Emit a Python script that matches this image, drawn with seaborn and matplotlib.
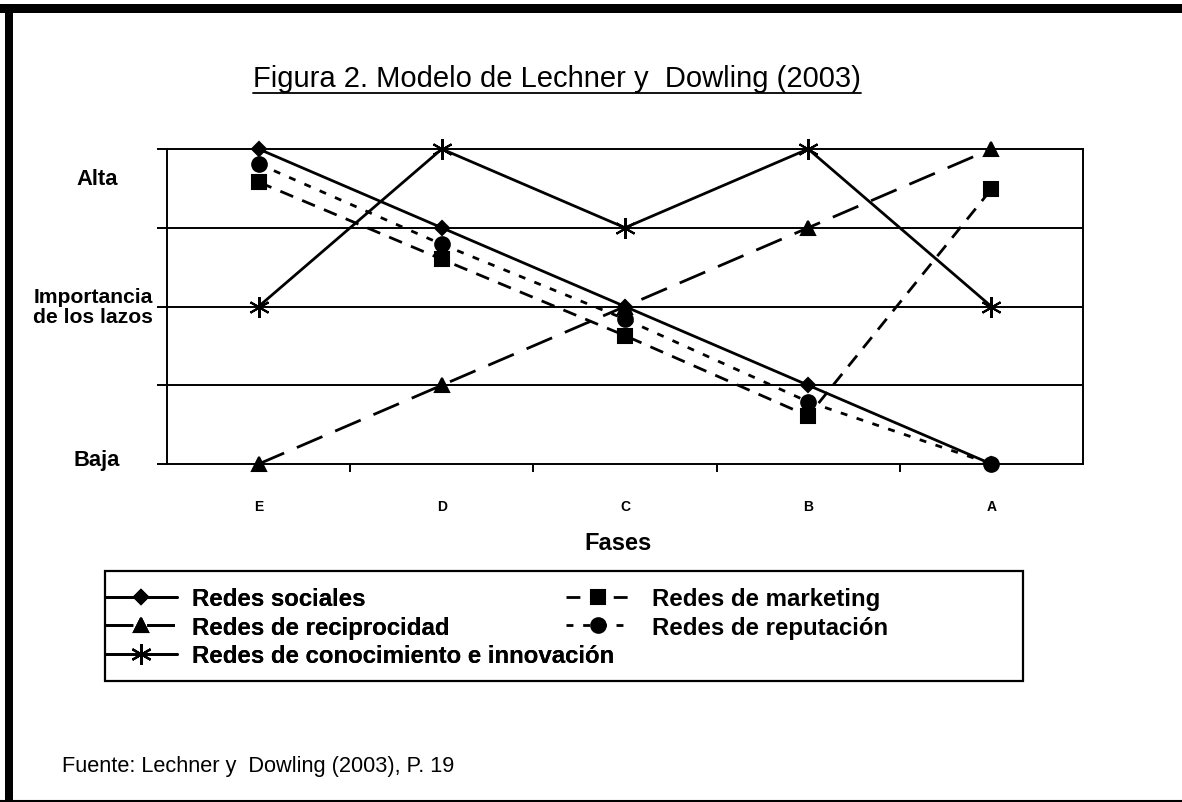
import matplotlib
matplotlib.use("Agg")
import matplotlib.pyplot as plt
import matplotlib.transforms as mtransforms
import seaborn as sns
import numpy as np
from matplotlib.lines import Line2D
from matplotlib.patches import Rectangle

# datos (0 = Baja, 4 = Alta)
fases = ["E", "D", "C", "B", "A"]
redes_sociales = [4, 3, 2, 1, 0]
redes_reciprocidad = [0, 1, 2, 3, 4]
redes_conocimiento = [2, 4, 3, 4, 2]
redes_marketing = [3.58, 2.60, 1.63, 0.61, 3.49]
redes_reputacion = [3.81, 2.79, 1.84, 0.79, 0.0]

sns.set_theme(style="white")
plt.rcParams["font.family"] = ["Liberation Sans", "DejaVu Sans"]
plt.rcParams["text.color"] = "black"
plt.rcParams["xtick.color"] = "black"
plt.rcParams["ytick.color"] = "black"

W, H = 1182, 803
fig = plt.figure(figsize=(W / 100, H / 100), dpi=100)
fig.patch.set_facecolor("white")

# ejes del grafico (en pixeles de la figura)
x0, x1, ytop, ybot = 167, 1083, 150, 465
ax = fig.add_axes([x0 / W, 1 - ybot / H, (x1 - x0) / W, (ybot - ytop) / H])

x = np.arange(len(fases))
series = [
    # etiqueta, valores, estilo de linea, marcador, tamano
    ("Redes sociales", redes_sociales, "-", "D", 7.5),
    ("Redes de reciprocidad", redes_reciprocidad, (0, (10, 5)), "^", 10.5),
    ("Redes de conocimiento e innovación", redes_conocimiento, "-", (6, 2, 0), 15),
    ("Redes de marketing", redes_marketing, (0, (5, 3.5)), "s", 9.5),
    ("Redes de reputación", redes_reputacion, (0, (2.5, 3.5)), "o", 10.5),
]

handles = []
for label, vals, ls, mk, ms in series:
    sns.lineplot(x=x, y=vals, ax=ax, color="black", linewidth=2.0,
                 linestyle=ls, marker=mk, markersize=ms,
                 markeredgecolor="black", markerfacecolor="black",
                 markeredgewidth=1.5, clip_on=False, zorder=3)
    handles.append(Line2D([0], [0], color="black", linewidth=2.0, linestyle=ls,
                          marker=mk, markersize=ms, markerfacecolor="black",
                          markeredgecolor="black", markeredgewidth=1.5, label=label))

ax.set_xlim(-0.5, len(fases) - 0.5)
ax.set_ylim(0, 4)
for yv in [1, 2, 3]:
    ax.axhline(yv, color="black", linewidth=1.4, zorder=1)
for sp in ax.spines.values():
    sp.set_color("black")
    sp.set_linewidth(1.4)

ax.set_xticks(x)
ax.set_xticklabels(fases, fontsize=10, fontweight="bold")
ax.set_xticks(np.arange(0.5, len(fases) - 1, 1.0), minor=True)
ax.tick_params(axis="x", which="major", length=0, pad=25)
ax.tick_params(axis="x", which="minor", bottom=True, length=6, width=1.4, color="black", direction="out")
ax.set_yticks([0, 1, 2, 3, 4])
ax.set_yticklabels([])
ax.tick_params(axis="y", left=True, length=7, width=1.4, color="black", direction="out")

# rotulos del eje vertical
trans = mtransforms.blended_transform_factory(fig.transFigure, ax.transData)
fig.text(97 / W, 3.62, "Alta", transform=trans, ha="center", va="center",
         fontsize=15.8, fontweight="bold")
fig.text(93 / W, 2.0, "Importancia\nde los lazos", transform=trans, ha="center",
         va="center", fontsize=15.2, fontweight="bold", linespacing=1.1)
fig.text(97 / W, 0.06, "Baja", transform=trans, ha="center", va="center",
         fontsize=15.8, fontweight="bold")

fig.text(618 / W, 1 - 543 / H, "Fases", ha="center", va="center", fontsize=17, fontweight="bold")

# titulo subrayado
titulo = fig.text(557 / W, 1 - 79 / H, "Figura 2. Modelo de Lechner y  Dowling (2003)",
                  ha="center", va="center", fontsize=21)

fig.text(62 / W, 1 - 767 / H, "Fuente: Lechner y  Dowling (2003), P. 19",
         ha="left", va="center", fontsize=15.7)

# leyenda en dos bloques con un marco comun
leg_kw = dict(loc="upper left", frameon=False, prop={"size": 17.3, "weight": "bold"},
              labelspacing=0.23, borderpad=0, borderaxespad=0)
leg1 = fig.legend(handles=handles[:3], bbox_to_anchor=(105 / W, 1 - 588 / H),
                  handlelength=3.0, handletextpad=0.6, **leg_kw)
leg2 = fig.legend(handles=handles[3:], bbox_to_anchor=(566 / W, 1 - 588 / H),
                  handlelength=2.7, handletextpad=0.9, **leg_kw)
fig.add_artist(leg1)
fig.add_artist(Rectangle((105 / W, 1 - 682 / H), (1023 - 105) / W, (682 - 572) / H,
                         transform=fig.transFigure, fill=False, edgecolor="black",
                         linewidth=1.6))

# marco exterior
fig.add_artist(Rectangle((0, 1 - 14 / H), 1, 9 / H, transform=fig.transFigure,
                         facecolor="black", edgecolor="none"))
fig.add_artist(Rectangle((5 / W, 0), 8 / W, 1 - 5 / H, transform=fig.transFigure,
                         facecolor="black", edgecolor="none"))
fig.add_artist(Line2D([0, 1], [1.5 / H, 1.5 / H], transform=fig.transFigure,
                      color="black", linewidth=1.5))

fig.canvas.draw()
bb = titulo.get_window_extent(fig.canvas.get_renderer())
uy = (bb.y0 - 1) / H
fig.add_artist(Line2D([bb.x0 / W, bb.x1 / W], [uy, uy], transform=fig.transFigure,
                      color="black", linewidth=1.3))

fig.savefig("out.png", dpi=100, facecolor="white")
plt.close(fig)
